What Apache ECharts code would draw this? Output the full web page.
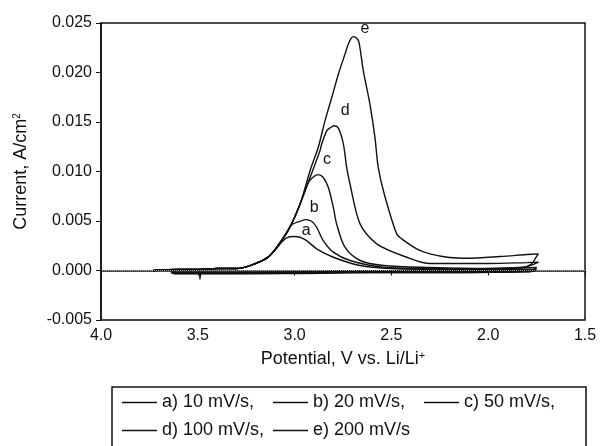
<!DOCTYPE html>
<html>
<head>
<meta charset="utf-8">
<script src="https://cdn.jsdelivr.net/npm/echarts@6/dist/echarts.min.js"></script>
<style>
  html, body { margin: 0; padding: 0; background: #fff; }
  #main { width: 601px; height: 446px; }
</style>
</head>
<body>
<div id="main"></div>
<script>
// cyclic voltammograms, potential (V vs Li/Li+) and current (A/cm2)
var names = ['a) 10 mV/s,', 'b) 20 mV/s,', 'c) 50 mV/s,', 'd) 100 mV/s,', 'e) 200 mV/s'];
var tags = ['a', 'b', 'c', 'd', 'e'];

var potA = [3.73, 3.60, 3.49, 3.40, 3.30, 3.23, 3.14, 3.09, 3.067, 3.041, 3.003, 2.972, 2.938, 2.886, 2.80, 2.662, 2.50, 2.20, 2.00, 1.75,
  1.80, 2.20, 2.60, 3.00, 3.40, 3.49, 3.489, 3.485, 3.63, 3.64];
var curA = [0.0000, 0.0001, 0.0001, 0.0002, 0.0002, 0.0005, 0.0013, 0.0023, 0.00285, 0.0033, 0.00343, 0.00336, 0.00302, 0.00219, 0.00134, 0.0005, 0.0002, 0.0001, 0.0000, 0.0000,
  -0.0001, -0.0002, -0.0002, -0.0003, -0.0003, -0.0003, -0.0009, -0.0003, -0.0003, -0.0001];

var potB = [3.73, 3.60, 3.49, 3.40, 3.30, 3.23, 3.14, 3.09, 3.04, 3.013, 2.972, 2.941, 2.912, 2.886, 2.852, 2.80, 2.714, 2.544, 2.30, 2.00, 1.75,
  1.78, 2.20, 2.80, 3.20, 3.62, 3.63];
var curB = [0.0000, 0.0001, 0.0001, 0.0002, 0.0002, 0.0005, 0.0013, 0.0024, 0.0038, 0.00464, 0.00497, 0.00514, 0.00497, 0.00437, 0.00302, 0.00185, 0.00101, 0.00033, 0.0002, 0.0001, 0.0001,
  -0.0001, -0.0002, -0.0002, -0.0003, -0.0003, -0.0001];

var potC = [3.73, 3.60, 3.49, 3.40, 3.30, 3.23, 3.14, 3.09, 3.024, 2.972, 2.929, 2.90, 2.878, 2.852, 2.826, 2.80, 2.783, 2.74, 2.662, 2.54, 2.30, 2.00, 1.75,
  1.78, 2.20, 2.80, 3.30, 3.62, 3.63];
var curC = [0.0000, 0.0001, 0.0001, 0.0002, 0.0002, 0.0005, 0.0013, 0.0024, 0.0044, 0.0067, 0.0089, 0.0095, 0.00968, 0.0094, 0.0084, 0.00638, 0.00471, 0.00235, 0.00101, 0.0005, 0.0003, 0.0002, 0.0003,
  -0.0001, -0.0001, -0.0002, -0.0003, -0.0003, -0.0001];

var potD = [3.73, 3.60, 3.49, 3.40, 3.30, 3.23, 3.14, 3.09, 3.024, 2.972, 2.92, 2.869, 2.860, 2.834, 2.808, 2.795, 2.774, 2.748, 2.731, 2.714, 2.662, 2.576, 2.421, 2.301, 2.00, 1.80, 1.74,
  1.82, 2.20, 2.80, 3.30, 3.62, 3.63];
var curD = [0.0000, 0.0001, 0.0001, 0.0002, 0.0002, 0.0005, 0.0013, 0.0024, 0.0044, 0.0067, 0.0094, 0.0121, 0.01277, 0.01411, 0.01452, 0.01462, 0.01438, 0.01277, 0.01041, 0.00874, 0.00471, 0.00269, 0.00134, 0.0007, 0.0007, 0.0008, 0.00084,
  0.0003, 0.0000, -0.0001, -0.0002, -0.0002, 0.0000];

var potE = [3.73, 3.60, 3.49, 3.40, 3.30, 3.23, 3.14, 3.09, 3.024, 2.972, 2.915, 2.878, 2.843, 2.808, 2.774, 2.74, 2.722, 2.707, 2.695, 2.682, 2.668, 2.645, 2.611, 2.585, 2.568, 2.537, 2.473, 2.447, 2.369, 2.301, 2.20, 2.111, 1.939, 1.801, 1.741,
  1.758, 1.775, 1.819, 2.20, 2.80, 3.30, 3.63];
var curE = [0.0000, 0.0001, 0.0001, 0.0002, 0.0002, 0.0005, 0.0013, 0.0024, 0.0044, 0.0067, 0.0104, 0.01243, 0.01512, 0.01747, 0.01983, 0.02184, 0.0229, 0.02348, 0.02362, 0.02352, 0.0231, 0.02016, 0.0168, 0.01344, 0.01041, 0.00773, 0.0037, 0.0032, 0.00219, 0.00168, 0.00132, 0.00124, 0.00141, 0.00161, 0.00168,
  0.00118, 0.00068, 0.00033, 0.0001, -0.0001, -0.0002, -0.0002];

// where the letters a..e sit next to each peak
var tagPot = [2.94, 2.899, 2.832, 2.739, 2.636];
var tagCur = [0.00403, 0.00635, 0.0112, 0.0162, 0.0244];

var pots = [potA, potB, potC, potD, potE];
var curs = [curA, curB, curC, curD, curE];

var font = "'Liberation Sans', Arial, Helvetica, sans-serif";
var chart = echarts.init(document.getElementById('main'), null, { renderer: 'canvas' });

function pairs(p, c) {
  var out = [];
  for (var i = 0; i < p.length; i++) out.push([p[i], c[i]]);
  return out;
}

var series = [];
for (var k = 0; k < names.length; k++) {
  var s = {
    name: names[k],
    type: 'line',
    symbol: 'none',
    smooth: 0.3,
    data: pairs(pots[k], curs[k]),
    lineStyle: { color: '#111', width: 1.4 },
    itemStyle: { color: '#111' },
    z: 3,
    markPoint: {
      symbol: 'circle',
      symbolSize: 0,
      label: { show: true, position: 'inside', formatter: tags[k], color: '#111', fontSize: 16, fontFamily: font },
      data: [{ coord: [tagPot[k], tagCur[k]] }]
    }
  };
  if (k === 0) {
    s.markLine = {
      silent: true,
      symbol: 'none',
      label: { show: false },
      lineStyle: { color: '#aaa', type: 'dotted', width: 1 },
      data: [{ yAxis: 0 }]
    };
  }
  series.push(s);
}

chart.setOption({
  animation: false,
  backgroundColor: '#fff',
  grid: {
    left: 101, right: 16, top: 23, bottom: 126,
    show: true, borderColor: '#111', borderWidth: 1.5, backgroundColor: 'transparent'
  },
  legend: {
    data: names,
    left: 112,
    top: 387,
    width: 470,
    orient: 'horizontal',
    icon: 'rect',
    itemWidth: 35,
    itemHeight: 1.4,
    itemGap: 5,
    itemStyle: { color: '#111' },
    padding: [4, 16, 40, 10],
    borderColor: '#111',
    borderWidth: 1.5,
    textStyle: { fontSize: 18, fontFamily: font, color: '#111', width: 106, lineHeight: 23 }
  },
  xAxis: {
    type: 'value',
    inverse: true,
    min: 1.5,
    max: 4.0,
    interval: 0.5,
    name: 'Potential, V vs. Li/Li{sup|+}',
    nameLocation: 'middle',
    nameGap: 30,
    nameTextStyle: {
      fontSize: 18, fontFamily: font, color: '#111',
      rich: { sup: { fontSize: 11, verticalAlign: 'top', padding: [0, 0, 8, 0], fontFamily: font, color: '#111' } }
    },
    axisLine: { show: true, lineStyle: { color: '#111', width: 1.5 } },
    axisTick: { show: true, inside: false, length: 5, lineStyle: { color: '#111', width: 1 } },
    axisLabel: { fontSize: 16, fontFamily: font, color: '#111', margin: 8, formatter: function (v) { return v.toFixed(1); } },
    splitLine: { show: false }
  },
  yAxis: {
    type: 'value',
    min: -0.005,
    max: 0.025,
    interval: 0.005,
    name: 'Current, A/cm{sup|2}',
    nameLocation: 'middle',
    nameGap: 70,
    nameTextStyle: {
      fontSize: 18, fontFamily: font, color: '#111',
      rich: { sup: { fontSize: 10, verticalAlign: 'top', padding: [0, 0, 9, 0], fontFamily: font, color: '#111' } }
    },
    axisLine: { show: true, lineStyle: { color: '#111', width: 1.5 } },
    axisTick: { show: true, inside: false, length: 5, lineStyle: { color: '#111', width: 1 } },
    axisLabel: { fontSize: 16, fontFamily: font, color: '#111', margin: 9, formatter: function (v) { return v.toFixed(3); } },
    splitLine: { show: false }
  },
  series: series
});
</script>
</body>
</html>
